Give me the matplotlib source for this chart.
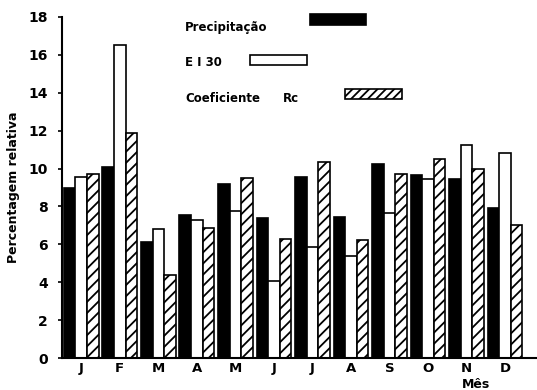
import numpy as np
import matplotlib.pyplot as plt
from matplotlib.patches import Rectangle

meses = ['J', 'F', 'M', 'A', 'M', 'J', 'J', 'A', 'S', 'O', 'N', 'D']
precipitacao = [9.0, 10.1, 6.1, 7.55, 9.2, 7.4, 9.55, 7.45, 10.25, 9.65, 9.45, 7.9]
ei30 = [9.55, 16.5, 6.8, 7.3, 7.75, 4.05, 5.85, 5.4, 7.65, 9.45, 11.25, 10.8]
coef_rc = [9.7, 11.9, 4.4, 6.85, 9.5, 6.3, 10.35, 6.25, 9.7, 10.5, 10.0, 7.0]

plt.rcParams['font.family'] = ['DejaVu Sans']
plt.rcParams['hatch.linewidth'] = 1.3

fig = plt.figure(figsize=(5.37, 3.9), dpi=100)
ax = fig.add_axes([62 / 537, 32 / 390, 1 - 62 / 537, 341 / 390])

x = np.arange(len(meses))
w = 0.30
ax.bar(x - w, precipitacao, w, color='black', edgecolor='black', linewidth=1.2)
ax.bar(x, ei30, w, color='white', edgecolor='black', linewidth=1.2)
ax.bar(x + w, coef_rc, w, color='white', edgecolor='black', linewidth=1.2, hatch='///')

ax.set_xlim(-0.5, 11.83)
ax.set_ylim(0, 18)
ax.set_yticks(range(0, 19, 2))
ax.set_xticks(x)
ax.set_xticklabels(meses, fontweight='bold', fontsize=9.5)
ax.tick_params(axis='x', length=0, pad=3)
ax.tick_params(axis='y', length=3, width=1.2, labelsize=10, pad=7)
for lab in ax.get_yticklabels():
    lab.set_fontweight('bold')
for s in ['top', 'right']:
    ax.spines[s].set_visible(False)
ax.spines['left'].set_linewidth(1.5)
ax.spines['bottom'].set_linewidth(1.5)

ax.set_ylabel('Percentagem relativa', fontweight='bold', fontsize=9, labelpad=6)
fig.text(476 / 537, 1 - 385 / 390, 'Mês', ha='center', va='center',
         fontweight='bold', fontsize=9)

# legenda
def px(xp, yp):
    return xp / 537, 1 - yp / 390

items = [
    ('Precipitação', 27, (310, 14, 56, 11), dict(facecolor='black')),
    ('E I 30', 62, (250, 55, 57, 10), dict(facecolor='white')),
    ('Coeficiente', 98, (345, 89, 57, 10), dict(facecolor='white', hatch='////')),
]
for label, ty, (rx, ry, rw, rh), style in items:
    fig.text(*px(185, ty), label, ha='left', va='center', fontweight='bold', fontsize=8.5)
    fx, fy = px(rx, ry + rh)
    fig.patches.append(Rectangle((fx, fy), rw / 537, rh / 390, transform=fig.transFigure,
                                 edgecolor='black', linewidth=1.2, **style))
fig.text(*px(283, 98), 'Rc', ha='left', va='center', fontweight='bold', fontsize=8.5)

fig.savefig('out.png', dpi=100)
